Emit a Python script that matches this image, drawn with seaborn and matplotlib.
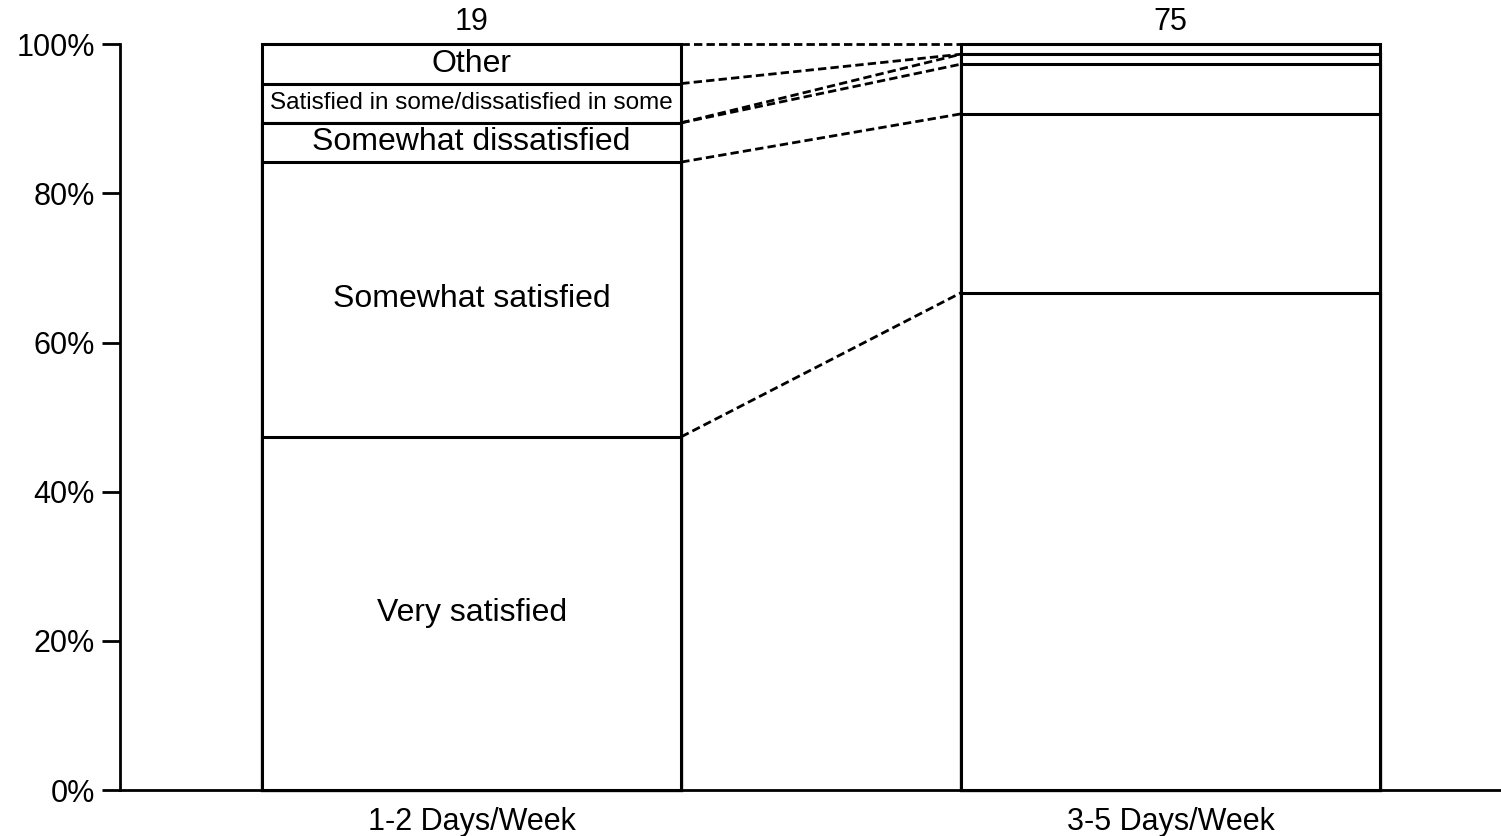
import numpy as np
import pandas as pd
import matplotlib
matplotlib.use("Agg")
import matplotlib.pyplot as plt
import seaborn as sns

# counts per response, bottom to top
groups = ["1-2 Days/Week", "3-5 Days/Week"]
totals = [19, 75]
responses = ["Very satisfied", "Somewhat satisfied", "Somewhat dissatisfied",
             "Very dissatisfied", "Satisfied in some/dissatisfied in some", "Other"]
counts_12 = [9, 7, 1, 0, 1, 1]
counts_35 = [50, 18, 5, 1, 0, 1]

sns.set_style("white")
plt.rcParams["font.family"] = ["Liberation Sans", "DejaVu Sans"]
plt.rcParams["text.color"] = "black"
plt.rcParams["xtick.color"] = "black"
plt.rcParams["ytick.color"] = "black"

pct = np.array([counts_12, counts_35], dtype=float)
pct = pct / pct.sum(axis=1, keepdims=True) * 100
cum = pct.cumsum(axis=1)

fig = plt.figure(figsize=(15.01, 8.36), dpi=100)
ax = fig.add_axes([0.080, 0.055, 0.920, 0.892])

bar_w = 0.6
# draw cumulative bars from the top down so each one shows as a stacked segment
for k in range(len(responses) - 1, -1, -1):
    df = pd.DataFrame({"group": groups, "cum": cum[:, k]})
    sns.barplot(data=df, x="group", y="cum", ax=ax, width=bar_w,
                color="white", edgecolor="black", linewidth=2.2,
                saturation=1, errorbar=None)
for p in ax.patches:
    p.set_clip_on(False)

# dashed connectors between the two bars
x_left = 0 + bar_w / 2
x_right = 1 - bar_w / 2
for k in range(len(responses)):
    ax.plot([x_left, x_right], [cum[0, k], cum[1, k]], color="black",
            linestyle=(0, (3, 1.5)), linewidth=2.0, zorder=3, clip_on=False)

# segment labels on the first bar only
prev = 0
for k, name in enumerate(responses):
    v = pct[0, k]
    if v > 0:
        fs = 17.5 if len(name) > 25 else 23
        ax.text(0, prev + v / 2, name, ha="center", va="center", fontsize=fs)
    prev += v

# totals above the bars
for i, n in enumerate(totals):
    ax.annotate(str(n), (i, 100), xytext=(0, 5), textcoords="offset points",
                ha="center", va="bottom", fontsize=22)

ax.set_ylim(0, 100)
ax.set_xlim(-0.503, 1.473)
ax.set_yticks([0, 20, 40, 60, 80, 100])
ax.set_yticklabels(["0%", "20%", "40%", "60%", "80%", "100%"])
ax.set_xlabel("")
ax.set_ylabel("")
ax.tick_params(axis="y", length=13, width=2, pad=5, labelsize=22, left=True)
ax.tick_params(axis="x", length=0, pad=12, labelsize=22)
for side in ["top", "right"]:
    ax.spines[side].set_visible(False)
for side in ["left", "bottom"]:
    ax.spines[side].set_linewidth(2)
    ax.spines[side].set_color("black")

fig.savefig("out.png", dpi=100, facecolor="white")
